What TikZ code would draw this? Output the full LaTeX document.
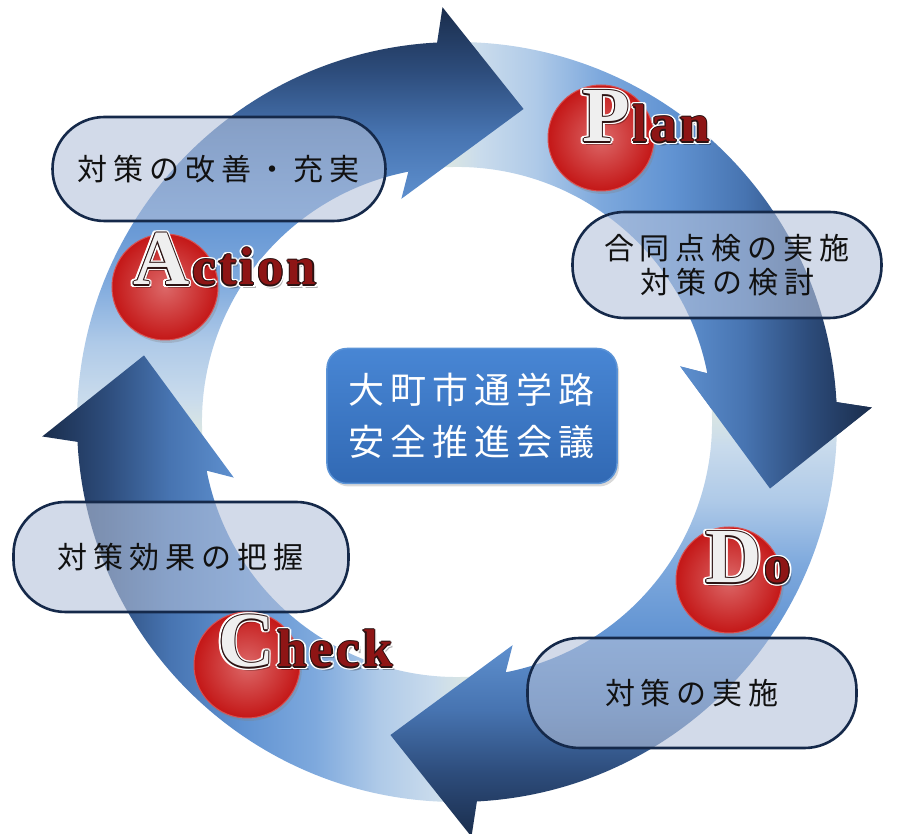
\documentclass[tikz,border=0pt]{standalone}
\usepackage{fontspec}
\newfontfamily\jpfont{Noto Sans CJK JP}
\newfontfamily\pdcafont{Liberation Serif}
\usetikzlibrary{calc,shadows}

\definecolor{ringA}{HTML}{EAF0DA}
\definecolor{ringB}{HTML}{C9DBEC}
\definecolor{ringC}{HTML}{AFCAE8}
\definecolor{ringD}{HTML}{7EA9DD}
\definecolor{ringE}{HTML}{6193D2}
\definecolor{ringF}{HTML}{4774B1}
\definecolor{ringG}{HTML}{2D4C7B}
\definecolor{ringH}{HTML}{1A2D4C}
\definecolor{boxline}{HTML}{15294A}
\definecolor{boxfill}{HTML}{B4C1DA}
\definecolor{boxtext}{HTML}{111111}
\definecolor{hubtop}{HTML}{4886D4}
\definecolor{hubbot}{HTML}{3169B4}
\definecolor{hubrim}{HTML}{5B93D6}
\definecolor{ballin}{HTML}{DC6868}
\definecolor{ballout}{HTML}{C41717}
\definecolor{ballrim}{HTML}{D85050}
\definecolor{pdcared}{HTML}{8E1515}
\definecolor{pdcaink}{HTML}{2B1212}
\definecolor{pdcasilver}{HTML}{EFEFEF}

\pgfdeclareverticalshading{ringfade}{100bp}{color(0bp)=(ringA); color(25bp)=(ringA); color(32bp)=(ringB); color(38bp)=(ringC); color(45bp)=(ringD); color(53bp)=(ringE); color(61bp)=(ringF); color(68bp)=(ringG); color(75bp)=(ringH); color(100bp)=(ringH)}

% one curved arrow of the ring, tip at angle #1
\def\arrowpath#1{(#1+103:380) arc[start angle=#1+103, end angle=#1+15, radius=380] -- (#1+14:415) -- (#1:320) -- (#1+26:230) -- (#1+23:255) arc[start angle=#1+23, end angle=#1+111, radius=255] -- cycle}

\newcommand\spread[1]{\spreadA#1\relax\unskip}
\def\spreadA#1{\ifx\relax#1\else#1\hspace{6pt}\expandafter\spreadA\fi}
\def\spreadB#1{\ifx\relax#1\else\kern3pt#1\expandafter\spreadB\fi}

\newcommand\pdcaword[3]{{\fontsize{78}{78}\selectfont#1}{\fontsize{53}{53}\selectfont\color{#3}\spreadB#2\relax}}
\newcommand\pdcalabel[4]{%
  \node[pdca, text=black, opacity=.3] at ($(#2)+(2.5,-3.5)$) {\pdcaword{#3}{#4}{.}};
  \foreach \a in {0,30,...,330}
    \node[pdca, text=white] at ($(#2)+(\a:2.8)$) {\pdcaword{#3}{#4}{.}};
  \foreach \a in {0,45,...,315}
    \node[pdca, text=pdcaink] at ($(#2)+(\a:1.1)$) {\pdcaword{#3}{#4}{.}};
  \node[pdca] (#1) at (#2) {\pdcaword{\color{pdcasilver}#3}{#4}{pdcared}};
}

\begin{document}
\begin{tikzpicture}[x=1pt,y=1pt,
  ring/.style={shading=ringfade},
  taskbox/.style={draw=boxline, line width=2.6pt, fill=boxfill, fill opacity=.6, text opacity=1, rounded corners=52pt, inner sep=0pt, text=boxtext, align=center, font=\jpfont\fontsize{30}{34}\selectfont},
  ball/.style={circle, minimum size=106pt, inner sep=0pt, inner color=ballin, outer color=ballout, draw=ballrim, line width=1pt, drop shadow={opacity=.3, shadow xshift=2pt, shadow yshift=-3pt}},
  hub/.style={rounded corners=20pt, minimum width=290pt, minimum height=135pt, inner sep=0pt, top color=hubtop, bottom color=hubbot, draw=hubrim, line width=1.5pt, text=white, align=center, font=\jpfont\fontsize{36}{52}\selectfont, drop shadow={opacity=.3, shadow xshift=2pt, shadow yshift=-3pt}},
  pdca/.style={font=\pdcafont\bfseries, inner sep=0pt, anchor=base west}]
 \useasboundingbox (-457,-412) rectangle (440,422);

 % ring of four arrows
 \foreach \T/\S in {-12/-90,78/0,168/90,258/180}
   \shade[ring, shading angle=\S] \arrowpath{\T};
 \begin{scope}
  \clip (2:415) -- (-12:320) -- (14:230) -- cycle;
  \shade[ring, shading angle=-90] \arrowpath{-12};
 \end{scope}

 \node[taskbox, minimum width=333pt, minimum height=104pt] (improve) at (-238,253) {\spread{対策の改善・充実}};
 \node[taskbox, minimum width=309pt, minimum height=106pt] (inspect) at (270,157) {\spread{合同点検の実施}\\\spread{対策の検討}};
 \node[taskbox, minimum width=335pt, minimum height=110pt] (effect) at (-276,-135) {\spread{対策効果の把握}};
 \node[taskbox, minimum width=329pt, minimum height=110pt] (execute) at (235,-271) {\spread{対策の実施}};

 \node[ball] (planball) at (144,284) {};
 \node[ball] (doball) at (272,-158) {};
 \node[ball] (checkball) at (-210,-243) {};
 \node[ball] (actionball) at (-292,135) {};

 \pdcalabel{plan}{125,280}{P}{lan}
 \pdcalabel{action}{-324,137}{A}{ction}
 \pdcalabel{doing}{248,-161}{D}{o}
 \pdcalabel{check}{-239,-245}{C}{heck}

 \node[hub] (council) at (15,6) {\spread{大町市通学路}\\\spread{安全推進会議}};
\end{tikzpicture}
\end{document}
